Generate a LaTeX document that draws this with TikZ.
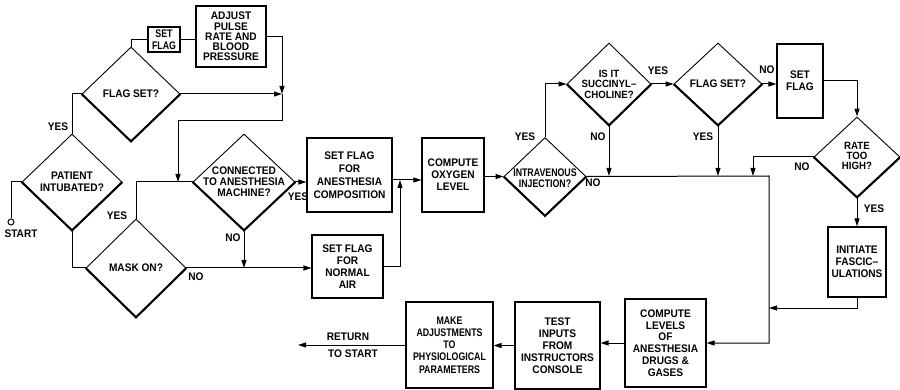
\documentclass[tikz,border=0pt]{standalone}
\usepackage{fontspec}
\setmainfont{Liberation Sans}[FakeStretch=0.92]
\newfontfamily\narrowf{Liberation Sans Bold}[FakeStretch=0.8]
\usetikzlibrary{arrows.meta,shapes.geometric}
\newcommand{\lett}{\bfseries\fontsize{11}{12}\selectfont}
\begin{document}
\begin{tikzpicture}[x=1pt,y=-1pt,
  box/.style={draw, line width=1.3pt, inner sep=0pt, align=center, font=\lett},
  dia/.style={draw, diamond, inner sep=0pt, line width=0.9pt},
  txt/.style={align=center, font=\lett, inner sep=0pt},
  lbl/.style={font=\lett, inner sep=0pt},
  flow/.style={line width=1pt},
  arr/.style={flow, -{Triangle[length=8pt,width=5pt]}}]
\useasboundingbox (0,0) rectangle (900,390);
% boxes
\node[box, minimum width=32pt, minimum height=25pt, font=\narrowf\fontsize{11}{11.5}\selectfont] (sf1) at (164,39.5) {SET\\FLAG};
\node[box, minimum width=70pt, minimum height=61pt, font=\bfseries\fontsize{11}{10.2}\selectfont] (adj) at (231,36.5) {ADJUST\\PULSE\\RATE AND\\BLOOD\\PRESSURE};
\node[box, minimum width=85pt, minimum height=74pt, font=\bfseries\fontsize{11}{13}\selectfont] (anes) at (349.5,175) {SET FLAG\\FOR\\ANESTHESIA\\COMPOSITION};
\node[box, minimum width=71pt, minimum height=63pt] (air) at (347.5,266.5) {SET FLAG\\FOR\\NORMAL\\AIR};
\node[box, minimum width=62pt, minimum height=74pt] (oxy) at (453,175) {COMPUTE\\OXYGEN\\LEVEL};
\node[box, minimum width=46pt, minimum height=74pt] (sf2) at (800,81) {SET\\FLAG};
\node[box, minimum width=58pt, minimum height=70pt] (init) at (857,262) {INITIATE\\FASCIC--\\ULATIONS};
\node[box, minimum width=81pt, minimum height=88pt, font=\bfseries\fontsize{11}{11.7}\selectfont] (lev) at (665.5,343) {COMPUTE\\LEVELS\\OF\\ANESTHESIA\\DRUGS \&\\GASES};
\node[box, minimum width=85pt, minimum height=87pt] (test) at (557.5,345.5) {TEST\\INPUTS\\FROM\\INSTRUCTORS\\CONSOLE};
\node[box, minimum width=87pt, minimum height=86pt, font=\narrowf\fontsize{11}{12.2}\selectfont] (make) at (449.5,345) {MAKE\\ADJUSTMENTS\\TO\\PHYSIOLOGICAL\\PARAMETERS};
% diamonds
\node[dia, minimum width=98pt, minimum height=94pt] (fs1) at (131,94) {};
\node[dia, minimum width=100pt, minimum height=96pt] (pat) at (72,182) {};
\node[dia, minimum width=100pt, minimum height=98pt] (mask) at (136,268) {};
\node[dia, minimum width=102pt, minimum height=96pt] (conn) at (244,182) {};
\node[dia, minimum width=82pt, minimum height=78pt] (iv) at (545,176.5) {};
\node[dia, minimum width=84pt, minimum height=82pt] (succ) at (609,84) {};
\node[dia, minimum width=88pt, minimum height=82pt] (fs2) at (718,84) {};
\node[dia, minimum width=86pt, minimum height=80pt] (rate) at (857,157) {};
\foreach \d in {fs1,pat,mask,conn,iv,succ,fs2,rate}
  \draw[line width=2pt, line join=miter] (\d.west) -- (\d.south) -- (\d.east);
\node[txt] (fs1t) at (fs1) {FLAG SET?};
\node[txt] (patt) at (pat) {PATIENT\\INTUBATED?};
\node[txt] (maskt) at (mask) {MASK ON?};
\node[txt, font=\bfseries\fontsize{11}{11}\selectfont] (connt) at (conn) {CONNECTED\\TO ANESTHESIA\\MACHINE?};
\node[txt, font=\narrowf\fontsize{11}{10.5}\selectfont] (ivt) at (545,178) {INTRAVENOUS\\INJECTION?};
\node[txt, font=\bfseries\fontsize{10.5}{10.5}\selectfont] (succt) at (succ) {IS IT\\SUCCINYL--\\CHOLINE?};
\node[txt] (fs2t) at (fs2) {FLAG SET?};
\node[txt, font=\bfseries\fontsize{10.5}{10}\selectfont] (ratet) at (857,156) {RATE\\TOO\\HIGH?};
% start
\node[circle, draw, minimum size=6pt, inner sep=0pt, line width=1pt] (start) at (11,222) {};
\node[lbl] (startl) at (21,234) {START};
% junction coordinates
\coordinate (j1) at (282,94);
\coordinate (j1b) at (282,121);
\coordinate (j2) at (178,182);
\coordinate (j3) at (244,268);
\coordinate (j4) at (400,180);
\coordinate (jr1) at (753,176);
\coordinate (jr) at (769,176);
\coordinate (jr2) at (769,308);
\coordinate (ret) at (298,345);
% connectors
\draw[flow] (fs1.north) |- (sf1.west);
\draw[flow] (sf1.east) -- (sf1.east -| adj.west);
\draw[arr] (adj.east) -| (j1);
\draw[arr] (fs1.east) -- (j1);
\draw[arr] (j1) -- (j1b) -| (j2);
\draw[flow] (pat.north) |- (fs1.west);
\draw[flow] (start.north) |- (pat.west);
\draw[flow] (pat.south) |- (mask.west);
\draw[flow] (mask.north) |- (conn.west);
\draw[arr] (conn.east) -- (conn.east -| anes.west);
\draw[arr] (conn.south) -- (j3);
\draw[arr] (mask.east) -- (mask.east -| air.west);
\draw[flow] (anes.east |- j4) -- (j4);
\draw[arr] (j4) -- (j4 -| oxy.west);
\draw[arr] (air.east) -| (j4);
\draw[arr] (oxy.east |- iv.west) -- (iv.west);
\draw[arr] (iv.north) |- (succ.west);
\draw[arr] (succ.east) -- (fs2.west);
\draw[arr] (fs2.east) -- (fs2.east -| sf2.west);
\draw[arr] (sf2.east) -| (rate.north);
\draw[arr] (rate.west) -| (jr1);
\draw[arr] (succ.south) -- (succ.south |- jr1);
\draw[arr] (fs2.south) -- (fs2.south |- jr1);
\draw[arr] (iv.east) -- (jr) |- (lev.east);
\draw[arr] (rate.south) -- (init.north);
\draw[arr] (init.south) |- (jr2);
\draw[arr] (lev.west) -- (lev.west -| test.east);
\draw[arr] (test.west) -- (test.west -| make.east);
\draw[arr] (make.west) -- (ret);
% labels
\node[lbl] (y1) at (58,127) {YES};
\node[lbl] (y2) at (117,216) {YES};
\node[lbl] (y3) at (298,197) {YES};
\node[lbl] (n1) at (233,238) {NO};
\node[lbl] (n2) at (196,277) {NO};
\node[lbl] (y4) at (525,137) {YES};
\node[lbl] (y5) at (658,71) {YES};
\node[lbl] (n3) at (767,70) {NO};
\node[lbl] (n4) at (802,167) {NO};
\node[lbl] (n5) at (598,137) {NO};
\node[lbl] (y6) at (703,137) {YES};
\node[lbl] (n6) at (593,183) {NO};
\node[lbl] (y7) at (874,209) {YES};
\node[lbl] (rl1) at (348,337) {RETURN};
\node[lbl] (rl2) at (353,354) {TO START};
\end{tikzpicture}
\end{document}
